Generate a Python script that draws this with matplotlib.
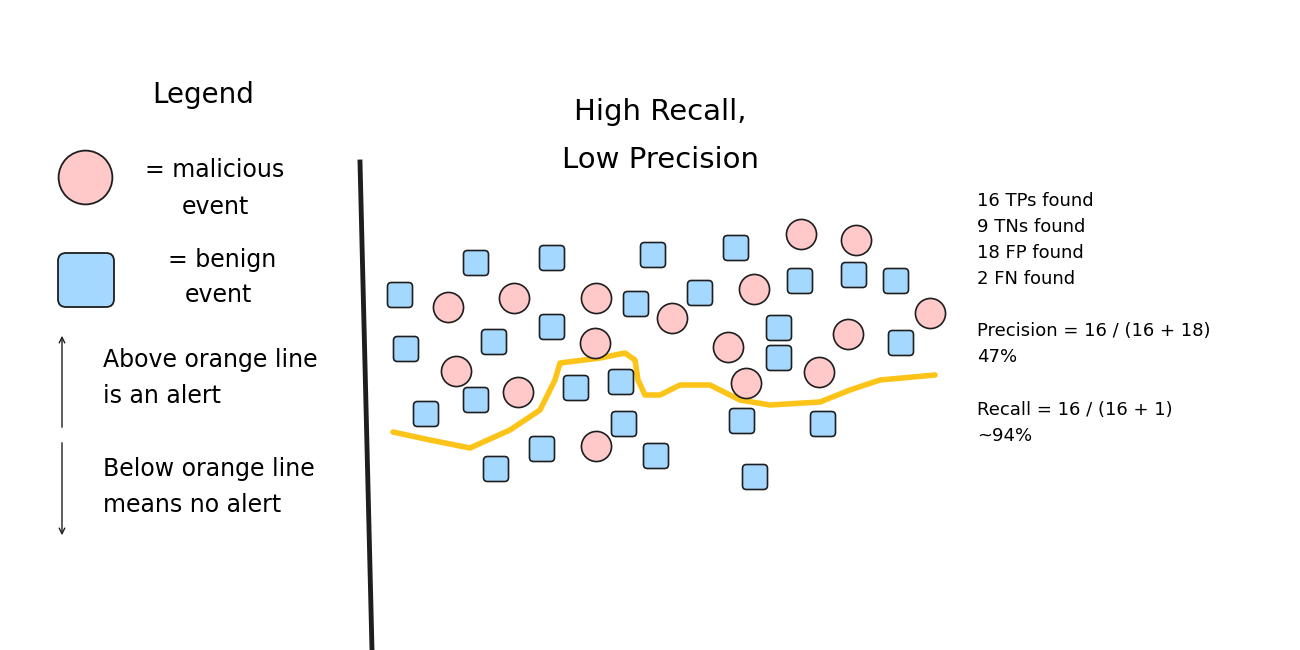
import matplotlib
matplotlib.use("Agg")
import matplotlib.pyplot as plt
from matplotlib.patches import FancyBboxPatch

mal_x = [801,856,448,514,596,672,754,930,595,728,848,456,518,746,819,596]
mal_y = [234,240,307,298,298,318,289,313,343,347,334,371,392,383,372,446]
ben_x = [476,552,653,736,400,636,700,800,854,896,552,494,406,779,779,901,576,621,476,426,624,742,823,542,656,496,755]
ben_y = [263,258,255,248,295,304,293,281,275,281,327,342,349,328,358,343,388,382,400,414,424,421,424,449,456,469,477]
line_x = [393,430,470,510,540,555,560,600,625,635,638,645,660,680,710,740,770,820,850,880,935]
line_y = [432,440,448,430,410,380,363,358,353,360,380,395,395,385,385,400,405,402,390,380,375]
stats = ["16 TPs found", "9 TNs found", "18 FP found", "2 FN found"]

PINK, BLUE, EDGE = "#ffc9c9", "#a5d8ff", "#1e1e1e"
fig = plt.figure(figsize=(13, 6.5), dpi=100)
ax = fig.add_axes([0, 0, 1, 1])
ax.set_xlim(0, 1300); ax.set_ylim(650, 0); ax.axis("off")

ax.plot(line_x, line_y, color="#fcc419", lw=4, solid_capstyle="round", zorder=1)
ax.scatter(mal_x, mal_y, s=470, c=PINK, edgecolors=EDGE, linewidths=1.2, zorder=2)
for x, y in zip(ben_x, ben_y):
    ax.add_patch(FancyBboxPatch((x-11, y-11), 22, 22, boxstyle="round,pad=1.5,rounding_size=4",
                                fc=BLUE, ec=EDGE, lw=1.2, zorder=2))

ax.plot([360, 372], [162, 650], color=EDGE, lw=3.5)

F = "DejaVu Sans"
ax.text(203, 95, "Legend", fontsize=20, ha="center", va="center", family=F)
ax.scatter([85], [177], s=1500, c=PINK, edgecolors=EDGE, linewidths=1.3)
ax.add_patch(FancyBboxPatch((60, 255), 52, 50, boxstyle="round,pad=2,rounding_size=8", fc=BLUE, ec=EDGE, lw=1.3))
ax.text(145, 170, "= malicious", fontsize=17, va="center", family=F)
ax.text(182, 207, "event", fontsize=17, va="center", family=F)
ax.text(168, 260, "= benign", fontsize=17, va="center", family=F)
ax.text(185, 295, "event", fontsize=17, va="center", family=F)
ax.annotate("", xy=(62, 333), xytext=(62, 430), arrowprops=dict(arrowstyle="->", lw=1, color=EDGE))
ax.annotate("", xy=(62, 538), xytext=(62, 440), arrowprops=dict(arrowstyle="->", lw=1, color=EDGE))
ax.text(103, 360, "Above orange line", fontsize=17, va="center", family=F)
ax.text(103, 396, "is an alert", fontsize=17, va="center", family=F)
ax.text(103, 469, "Below orange line", fontsize=17, va="center", family=F)
ax.text(103, 505, "means no alert", fontsize=17, va="center", family=F)

ax.text(660, 112, "High Recall,", fontsize=21, ha="center", va="center", family=F)
ax.text(660, 160, "Low Precision", fontsize=21, ha="center", va="center", family=F)

for i, s in enumerate(stats):
    ax.text(977, 201 + i*26, s, fontsize=13, va="center", family=F)
ax.text(977, 331, "Precision = 16 / (16 + 18)", fontsize=13, va="center", family=F)
ax.text(977, 357, "47%", fontsize=13, va="center", family=F)
ax.text(977, 410, "Recall = 16 / (16 + 1)", fontsize=13, va="center", family=F)
ax.text(977, 436, "~94%", fontsize=13, va="center", family=F)

fig.savefig("out.png", dpi=100, facecolor="white")
